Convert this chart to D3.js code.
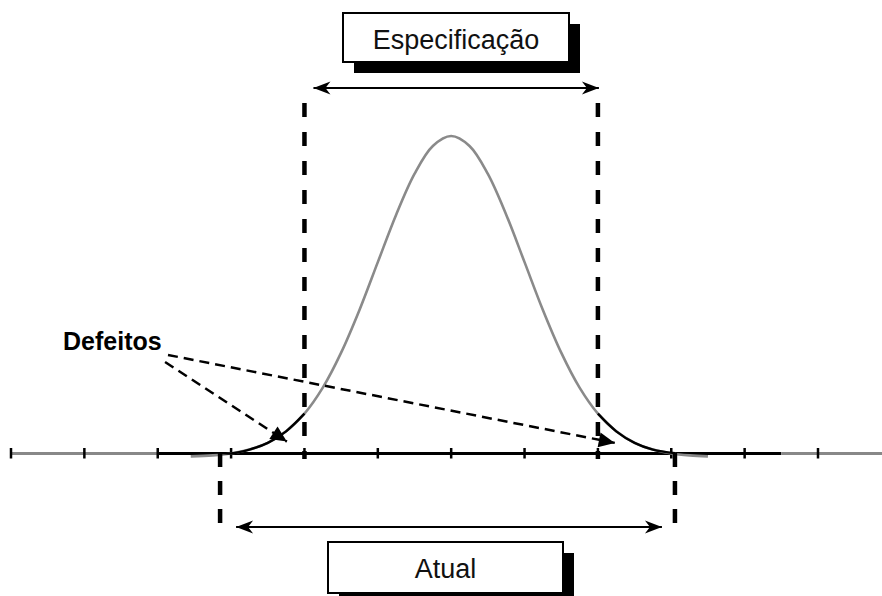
<!DOCTYPE html>
<html>
<head>
<meta charset="utf-8">
<script src="https://cdn.jsdelivr.net/npm/d3@7"></script>
<style>
  body { margin: 0; background: #fff; }
  text { font-family: "Liberation Sans", Arial, sans-serif; }
</style>
</head>
<body>
<script>
// Process spread vs. specification (x in sigma units)
var tickValues = [-6, -5, -4, -3, -2, -1, 0, 1, 2, 3, 4, 5];
var specLimits = [-2, 2];
var actualLimits = [-3.15, 3.05];
var curveX = [-3.55, -3.25, -3, -2.75, -2.5, -2.25, -2, -1.75, -1.5, -1.25, -1, -0.75, -0.5, -0.25, 0,
              0.25, 0.5, 0.75, 1, 1.25, 1.5, 1.75, 2, 2.25, 2.5, 2.75, 3, 3.25, 3.5];
var curveY = [0.002, 0.005, 0.011, 0.023, 0.044, 0.080, 0.135, 0.216, 0.325, 0.458, 0.607, 0.755, 0.882, 0.969, 1,
              0.969, 0.882, 0.755, 0.607, 0.458, 0.325, 0.216, 0.135, 0.080, 0.044, 0.023, 0.011, 0.005, 0.002];
var labels = ["Especificação", "Atual", "Defeitos"];
// leader lines for "Defeitos": [fromX, fromY, toX, toY] in data units
var leaders = [[-3.86, 0.318, 2.23, 0.044], [-3.9, 0.296, -2.24, 0.048]];

var width = 882, height = 596;
var axisY = 453.5;

var x = d3.scaleLinear().domain([-6, 5]).range([11, 818]);
var y = d3.scaleLinear().domain([0, 1]).range([457, 136]);

var svg = d3.select("body").append("svg")
    .attr("width", width)
    .attr("height", height);

var defs = svg.append("defs");
defs.append("marker")
    .attr("id", "stealth")
    .attr("markerUnits", "userSpaceOnUse")
    .attr("viewBox", "-18 -8 19 16")
    .attr("refX", 0).attr("refY", 0)
    .attr("markerWidth", 19).attr("markerHeight", 16)
    .attr("orient", "auto-start-reverse")
  .append("path")
    .attr("d", "M0,0 L-17,-6.5 L-12,0 L-17,6.5 Z")
    .attr("fill", "#000");
defs.append("marker")
    .attr("id", "tri")
    .attr("markerUnits", "userSpaceOnUse")
    .attr("viewBox", "-17 -8 18 16")
    .attr("refX", 0).attr("refY", 0)
    .attr("markerWidth", 18).attr("markerHeight", 16)
    .attr("orient", "auto")
  .append("path")
    .attr("d", "M0,0 L-16,-7.5 L-16,7.5 Z")
    .attr("fill", "#000");

// horizontal axis: gray outer parts, black middle
var axisParts = [[-6, -4, "#888"], [-4, 4.5, "#000"], [4.5, 5.94, "#888"]];
svg.selectAll(".axis-part")
  .data(axisParts)
  .enter().append("line")
    .attr("class", "axis-part")
    .attr("x1", function(d) { return x(d[0]); })
    .attr("x2", function(d) { return x(d[1]); })
    .attr("y1", axisY).attr("y2", axisY)
    .attr("stroke", function(d) { return d[2]; })
    .attr("stroke-width", 3.2);

svg.selectAll(".tick")
  .data(tickValues)
  .enter().append("line")
    .attr("class", "tick")
    .attr("x1", function(d) { return x(d); })
    .attr("x2", function(d) { return x(d); })
    .attr("y1", axisY - 5.5).attr("y2", axisY + 5)
    .attr("stroke", "#000")
    .attr("stroke-width", 2.5);

// the distribution curve
var points = curveX.map(function(v, i) { return [v, curveY[i]]; });
var line = d3.line()
    .x(function(d) { return x(d[0]); })
    .y(function(d) { return y(d[1]); })
    .curve(d3.curveCatmullRom);

svg.append("path")
    .datum(points)
    .attr("d", line)
    .attr("fill", "none")
    .attr("stroke", "#8a8a8a")
    .attr("stroke-width", 2.6);

// black tails outside the spec limits (defects)
var tails = [
  points.filter(function(d) { return d[0] >= actualLimits[0] - 0.1 && d[0] <= specLimits[0]; }),
  points.filter(function(d) { return d[0] >= specLimits[1] && d[0] <= actualLimits[1] + 0.1; })
];
tails[0][0] = [actualLimits[0], 0.012];
tails[1][tails[1].length - 1] = [actualLimits[1], 0.012];
svg.selectAll(".tail")
  .data(tails)
  .enter().append("path")
    .attr("class", "tail")
    .attr("d", line)
    .attr("fill", "none")
    .attr("stroke", "#000")
    .attr("stroke-width", 2.4);

// spec limit lines
svg.selectAll(".spec")
  .data(specLimits)
  .enter().append("line")
    .attr("class", "spec")
    .attr("x1", function(d) { return x(d); })
    .attr("x2", function(d) { return x(d); })
    .attr("y1", 103).attr("y2", 459)
    .attr("stroke", "#000")
    .attr("stroke-width", 4.5)
    .attr("stroke-dasharray", "14,15");

// actual spread lines
svg.selectAll(".actual")
  .data(actualLimits)
  .enter().append("line")
    .attr("class", "actual")
    .attr("x1", function(d) { return x(d); })
    .attr("x2", function(d) { return x(d); })
    .attr("y1", 453).attr("y2", 525)
    .attr("stroke", "#000")
    .attr("stroke-width", 4.5)
    .attr("stroke-dasharray", "14,14");

// double arrows
svg.append("line")
    .attr("x1", x(specLimits[0]) + 9).attr("x2", x(specLimits[1]) + 1)
    .attr("y1", 88).attr("y2", 88)
    .attr("stroke", "#000").attr("stroke-width", 2.2)
    .attr("marker-start", "url(#stealth)")
    .attr("marker-end", "url(#stealth)");
svg.append("line")
    .attr("x1", x(actualLimits[0]) + 16).attr("x2", x(actualLimits[1]) - 13)
    .attr("y1", 527).attr("y2", 527)
    .attr("stroke", "#000").attr("stroke-width", 2.2)
    .attr("marker-start", "url(#stealth)")
    .attr("marker-end", "url(#stealth)");

// label boxes with drop shadow
var boxes = [
  { text: labels[0], x0: 343, y0: 13, w: 226, h: 49, base: 49 },
  { text: labels[1], x0: 328, y0: 542, w: 235, h: 51, base: 578 }
];
boxes.forEach(function(b) {
  svg.append("rect")
      .attr("x", b.x0 + 11).attr("y", b.y0 + 11)
      .attr("width", b.w).attr("height", b.h)
      .attr("fill", "#000");
  svg.append("rect")
      .attr("x", b.x0).attr("y", b.y0)
      .attr("width", b.w).attr("height", b.h)
      .attr("fill", "#fff")
      .attr("stroke", "#000")
      .attr("stroke-width", 2);
  svg.append("text")
      .attr("x", b.x0 + b.w / 2).attr("y", b.base)
      .attr("text-anchor", "middle")
      .attr("font-size", 27)
      .attr("fill", "#111")
      .text(b.text);
});

// Defeitos label and leaders
svg.append("text")
    .attr("x", 63).attr("y", 350)
    .attr("font-size", 25)
    .attr("font-weight", "bold")
    .text(labels[2]);

svg.selectAll(".leader")
  .data(leaders)
  .enter().append("line")
    .attr("class", "leader")
    .attr("x1", function(d) { return x(d[0]); })
    .attr("y1", function(d) { return y(d[1]); })
    .attr("x2", function(d) { return x(d[2]); })
    .attr("y2", function(d) { return y(d[3]); })
    .attr("stroke", "#000")
    .attr("stroke-width", 2.5)
    .attr("stroke-dasharray", "10,6")
    .attr("marker-end", "url(#tri)");
</script>
</body>
</html>
